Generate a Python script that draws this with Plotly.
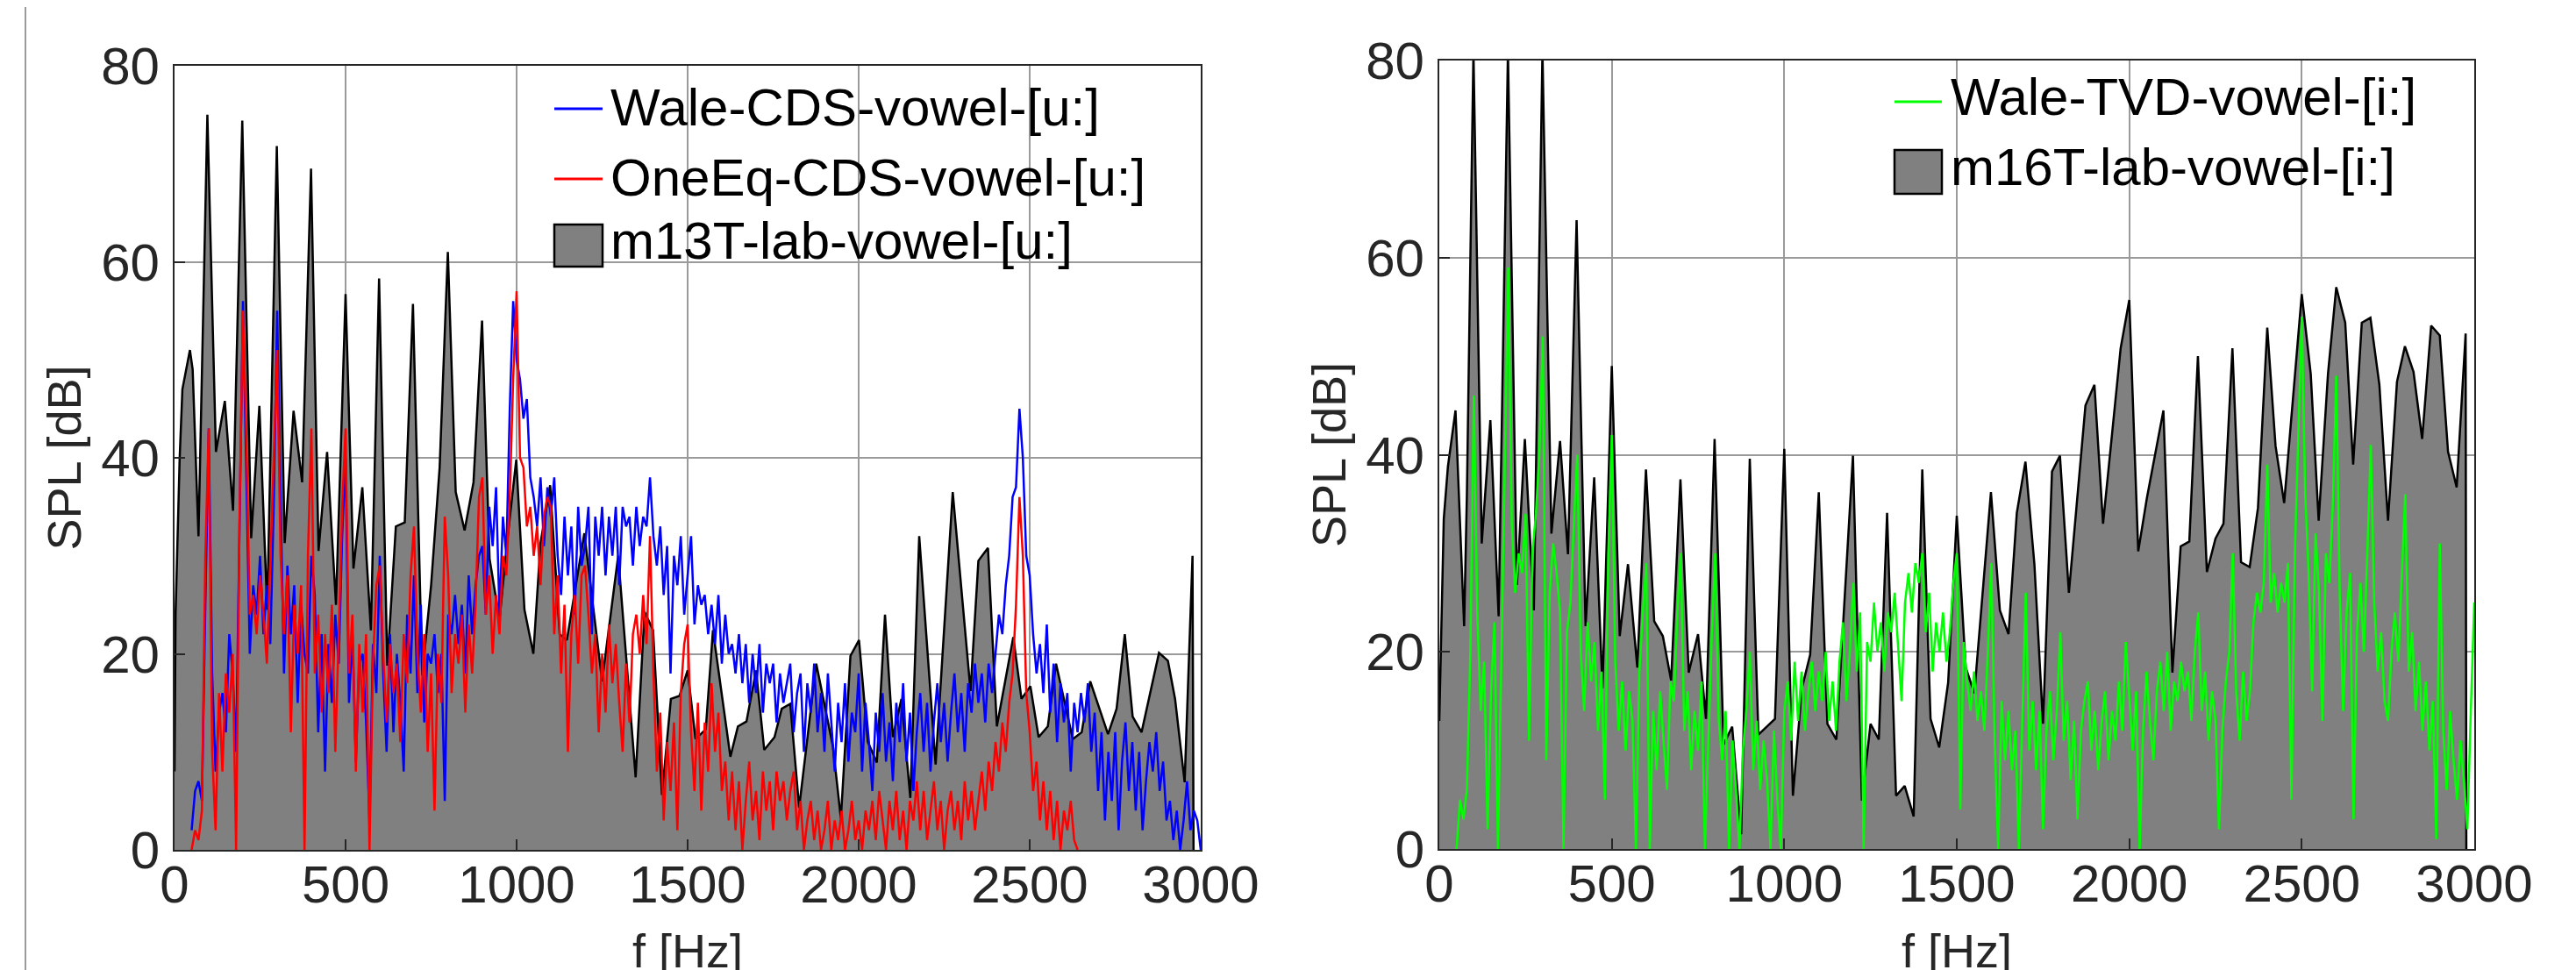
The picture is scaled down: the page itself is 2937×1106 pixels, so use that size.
import plotly.graph_objects as go

# ---------------- data ----------------
# left panel: m13T lab vowel [u:] envelope
m13t_f = [0, 3, 15, 23, 45, 53, 70, 75, 96, 121, 147, 171, 198, 224, 248, 271, 299, 322, 348, 373,
          399, 421, 446, 472, 500, 523, 549, 574, 598, 622, 647, 673, 697, 724, 750, 775, 799, 822, 848, 874,
          899, 921, 950, 972, 999, 1023, 1049, 1070, 1098, 1126, 1147, 1198, 1250, 1297, 1348, 1374, 1399, 1425, 1451, 1476,
          1500, 1523, 1553, 1574, 1625, 1647, 1672, 1700, 1724, 1754, 1775, 1800, 1826, 1876, 1925, 1948, 1976, 2001, 2027, 2053,
          2077, 2100, 2125, 2151, 2177, 2225, 2275, 2327, 2350, 2378, 2404, 2452, 2476, 2502, 2526, 2553, 2577, 2626, 2652, 2677,
          2729, 2754, 2778, 2801, 2827, 2878, 2904, 2925, 2953, 2976, 2979]
m13t_db = [8, 24, 40, 47, 51, 49, 32, 40, 75, 40.6, 45.8, 34.6, 74.4, 31.8, 45.3, 24.5, 71.8, 31.3, 44.8, 37.5,
           69.5, 30.5, 40.6, 25, 56.7, 28.7, 37, 22.4, 58.3, 18.8, 33, 33.4, 55.7, 17.8, 27, 39, 61, 36.5, 32.6, 37.5,
           54, 29.7, 23.5, 31.3, 39.8, 24.5, 20, 31.3, 37.2, 22, 21.4, 32.3, 17.2, 30, 7.4, 24.3, 22.4, 5.6, 15.4, 15.7,
           18.3, 11.3, 12.3, 22.4, 9.5, 12.6, 13.1, 18.3, 10.2, 11.5, 14.4, 14.9, 4.3, 19, 10.5, 3.2, 19.8, 21.4, 11, 8.9,
           24, 11.5, 15.4, 5.3, 32, 8.7, 36.5, 16.2, 29.5, 30.8, 12.6, 21.7, 15.4, 16.7, 11.5, 12.6, 19, 11.3, 12, 17.2,
           11.8, 14.4, 22, 13.6, 12, 20.1, 19.3, 15.4, 6.9, 30, 0]

# frequency grid of the simulated spectra (Hz)
sim_f = list(range(50, 3001, 10))

wale_cds_db = [
    2, 6, 7, 5, 25, 43, 18, 8, 14, 16,
    12, 22, 18, 10, 33, 56, 38, 20, 27, 24,
    30, 22, 27, 21, 35, 55, 36, 18, 29, 22,
    27, 15, 25, 20, 18, 30, 26, 12, 22, 8,
    21, 15, 24, 19, 32, 40, 15, 22, 9, 19,
    20, 13, 3, 21, 16, 30, 18, 10, 22, 12,
    20, 15, 8, 24, 18, 28, 16, 25, 13, 20,
    19, 22, 16, 20, 5, 24, 22, 26, 21, 25,
    18, 28, 22, 27, 30, 31, 24, 35, 31, 37,
    24, 34, 30, 45, 56, 50, 48, 44, 46, 38,
    36, 33, 38, 31, 37, 34, 38, 30, 26, 34,
    28, 33, 24, 35, 29, 31, 35, 22, 34, 30,
    35, 28, 34, 30, 35, 27, 35, 33, 34, 29,
    35, 31, 34, 33, 38, 32, 29, 33, 26, 31,
    18, 30, 27, 32, 24, 28, 32, 23, 27, 25,
    26, 22, 25, 21, 26, 19, 24, 20, 21, 18,
    22, 17, 21, 15, 20, 16, 21, 14, 19, 17,
    19, 13, 18, 15, 17, 19, 12, 16, 18, 10,
    17, 14, 19, 12, 16, 10, 18, 13, 8, 15,
    11, 17, 9, 14, 12, 18, 8, 15, 11, 6,
    14, 10, 16, 9, 13, 7, 15, 11, 17, 9,
    14, 6, 12, 16, 10, 15, 8, 13, 17, 11,
    15, 9, 14, 18, 12, 16, 10, 17, 14, 19,
    15, 18, 13, 19, 16, 20, 24, 22, 27, 30,
    36, 37, 45, 40, 30, 28, 22, 18, 21, 16,
    23, 14, 19, 11, 17, 13, 16, 8, 15, 12,
    16, 13, 17, 10, 14, 6, 12, 3, 10, 5,
    12, 2, 9, 13, 6, 11, 4, 10, 2, 7,
    11, 8, 12, 6, 9, 3, 5, 1, 4, 0,
    3, 7, 2, 4, 3, 0]

oneeq_cds_db = [
    0, 2, 1, 4, 30, 43, 10, 2, 16, 8,
    18, 14, 20, 0, 34, 55, 42, 24, 26, 22,
    28, 24, 19, 29, 40, 51, 30, 22, 28, 12,
    25, 20, 27, 0, 30, 43, 18, 24, 14, 22,
    16, 25, 10, 22, 35, 43, 18, 24, 8, 21,
    14, 22, 0, 19, 27, 29, 20, 13, 21, 16,
    19, 11, 22, 17, 28, 33, 20, 14, 22, 10,
    18, 4, 20, 15, 34, 28, 16, 22, 19, 24,
    14, 23, 18, 25, 36, 38, 24, 28, 20, 26,
    22, 30, 28, 36, 48, 57, 40, 39, 33, 35,
    30, 33, 27, 34, 36, 35, 22, 28, 18, 25,
    10, 22, 26, 19, 28, 29, 24, 18, 22, 12,
    20, 14, 23, 17, 21, 15, 10, 19, 13, 22,
    24, 20, 26, 21, 32, 18, 8, 14, 3, 11,
    6, 13, 2, 16, 21, 23, 12, 6, 15, 4,
    13, 8, 17, 10, 14, 6, 9, 3, 8, 2,
    7, 0, 5, 9, 3, 6, 1, 8, 4, 7,
    2, 8, 5, 7, 3, 6, 8, 2, 5, 0,
    3, 5, 1, 4, 0, 2, 5, 0, 3, 1,
    4, 0, 2, 5, 1, 3, 0, 4, 2, 5,
    1, 6, 3, 0, 5, 2, 6, 1, 4, 0,
    5, 3, 7, 2, 6, 1, 4, 7, 2, 5,
    0, 4, 6, 2, 5, 1, 7, 3, 6, 2,
    5, 8, 4, 9, 6, 11, 8, 13, 10, 15,
    18, 25, 36, 30, 16, 12, 6, 9, 3, 7,
    2, 6, 1, 5, 0, 4, 2, 5, 1, 0,
    None, None, None, None, None, None, None, None, None, None,
    None, None, None, None, None, None, None, None, None, None,
    None, None, None, None, None, None, None, None, None, None,
    None, None, None, None, None, None]

# right panel: m16T lab vowel [i:] envelope
m16t_f = [0, 5, 13, 25, 47, 72, 80, 99, 123, 148,
          172, 199, 225, 248, 274, 299, 325, 350, 373, 398,
          424, 449, 473, 500, 523, 547, 574, 599, 623, 648,
          672, 699, 723, 750, 773, 798, 824, 849, 875, 900,
          925, 973, 1000, 1025, 1051, 1075, 1100, 1125, 1151, 1199,
          1225, 1250, 1274, 1298, 1324, 1349, 1375, 1400, 1424, 1449,
          1475, 1500, 1526, 1551, 1599, 1625, 1650, 1674, 1699, 1725,
          1750, 1776, 1799, 1825, 1873, 1899, 1924, 1975, 2000, 2026,
          2051, 2099, 2125, 2149, 2174, 2199, 2225, 2250, 2273, 2299,
          2324, 2349, 2373, 2400, 2424, 2449, 2500, 2526, 2549, 2576,
          2600, 2626, 2649, 2674, 2699, 2725, 2750, 2776, 2799, 2824,
          2849, 2875, 2900, 2924, 2949, 2975, 2977]
m16t_db = [13, 20, 33.5, 38.8, 44.5, 22.6, 36, 81, 31, 43.5,
           23.6, 81, 26.8, 41.6, 24.2, 81, 32, 41.4, 29.9, 63.8,
           22.6, 37.7, 16.3, 49, 21.6, 28.9, 18.4, 38.5, 23.1, 21.6,
           17.1, 37.5, 17.9, 21.8, 13.2, 41.6, 10.6, 12.4, 1.5, 39.6,
           11.6, 13.2, 40.6, 5.4, 16.3, 19.7, 36.2, 12.7, 11.1, 39.9,
           4.9, 12.7, 11.1, 34.1, 5.4, 6.4, 3.3, 38.5, 13.2, 10.3,
           16.9, 33.8, 18.4, 15.8, 36.2, 24.2, 21.8, 34.1, 39.3, 28.9,
           12.7, 38.3, 39.9, 26, 45, 47.1, 33, 50.8, 55.7, 30.2,
           35.6, 44.5, 17.9, 30.7, 31.2, 50, 28.1, 31.5, 33, 50.8,
           29.1, 28.6, 34.6, 52.9, 40.9, 35.1, 56.3, 48.2, 33.3, 48.2,
           57, 53.4, 39, 53.4, 53.9, 47.1, 33.3, 47.4, 51, 48.4,
           41.6, 53.1, 52.1, 40.3, 36.7, 52.3, 0]

wale_tvd_db = [
    0, 5, 3, 6, 20, 46, 24, 14, 19, 2,
    16, 23, 0, 20, 38, 59, 33, 26, 30, 28,
    34, 11, 30, 34, 40, 52, 9, 26, 31, 28,
    24, 0, 22, 25, 33, 40, 20, 14, 23, 17,
    21, 12, 18, 5, 30, 42, 19, 12, 17, 10,
    16, 13, 0, 18, 24, 29, 0, 14, 8, 16,
    11, 6, 17, 15, 24, 30, 12, 16, 8, 14,
    10, 17, 0, 12, 22, 30, 13, 9, 14, 0,
    11, 6, 0, 10, 14, 20, 8, 13, 6, 11,
    7, 0, 12, 5, 0, 14, 17, 11, 19, 13,
    18, 12, 16, 19, 14, 18, 15, 20, 13, 17,
    12, 19, 23, 15, 20, 27, 18, 24, 0, 21,
    19, 25, 20, 23, 18, 24, 22, 26, 20, 15,
    25, 28, 24, 29, 27, 30, 22, 26, 18, 23,
    20, 24, 19, 22, 27, 30, 4, 21, 17, 14,
    18, 13, 16, 12, 20, 29, 11, 0, 15, 9,
    14, 8, 12, 0, 13, 26, 10, 15, 8, 14,
    2, 12, 16, 9, 14, 22, 11, 15, 7, 13,
    3, 12, 15, 17, 10, 14, 8, 13, 16, 9,
    14, 11, 17, 12, 21, 15, 10, 16, 0, 12,
    18, 13, 9, 16, 19, 14, 20, 12, 17, 15,
    19, 16, 18, 13, 20, 24, 14, 18, 11, 16,
    13, 2, 12, 17, 20, 30, 16, 11, 18, 13,
    16, 23, 26, 24, 27, 39, 25, 28, 24, 27,
    25, 29, 5, 30, 42, 54, 36, 28, 16, 32,
    26, 13, 30, 27, 35, 48, 26, 14, 24, 28,
    3, 22, 27, 20, 30, 41, 25, 18, 22, 15,
    13, 20, 24, 19, 28, 36, 18, 22, 14, 19,
    12, 17, 10, 15, 1, 31, 12, 6, 14, 9,
    5, 11, 7, 2, 14, 25]

x_ticks = [0, 500, 1000, 1500, 2000, 2500, 3000]
y_ticks = [0, 20, 40, 60, 80]

left_names = ["Wale-CDS-vowel-[u:]", "OneEq-CDS-vowel-[u:]", "m13T-lab-vowel-[u:]"]
right_names = ["Wale-TVD-vowel-[i:]", "m16T-lab-vowel-[i:]"]

# ---------------- styling ----------------
FONT = "Liberation Sans, Arial, Helvetica, sans-serif"
TXT = "#262626"
GRID = "#9a9a9a"
GRAY = "#808080"
W, H = 2937, 1106
TICK_SIZE = 60
TITLE_SIZE = 54
LEG_SIZE = 60

fig = go.Figure()

# left panel
fig.add_trace(go.Scatter(x=m13t_f, y=m13t_db, mode="lines", fill="tozeroy",
                         fillcolor=GRAY, line=dict(color="black", width=2.5),
                         name=left_names[2], showlegend=False, xaxis="x", yaxis="y"))
fig.add_trace(go.Scatter(x=sim_f, y=wale_cds_db, mode="lines",
                         line=dict(color="#0000ff", width=2.5),
                         name=left_names[0], showlegend=False, xaxis="x", yaxis="y"))
fig.add_trace(go.Scatter(x=sim_f, y=oneeq_cds_db, mode="lines",
                         line=dict(color="#ff0000", width=2.5),
                         name=left_names[1], showlegend=False, xaxis="x", yaxis="y"))

# right panel
fig.add_trace(go.Scatter(x=m16t_f, y=m16t_db, mode="lines", fill="tozeroy",
                         fillcolor=GRAY, line=dict(color="black", width=2.5),
                         name=right_names[1], showlegend=False, xaxis="x2", yaxis="y2"))
fig.add_trace(go.Scatter(x=sim_f, y=wale_tvd_db, mode="lines",
                         line=dict(color="#00ff00", width=2.5),
                         name=right_names[0], showlegend=False, xaxis="x2", yaxis="y2"))


def xax(domain, anchor):
    return dict(domain=domain, anchor=anchor, range=[0, 3000], tickvals=x_ticks,
                automargin=False,
                showgrid=True, gridcolor=GRID, gridwidth=1.5, zeroline=False,
                showline=True, mirror=True, linecolor=TXT, linewidth=2,
                ticks="inside", ticklen=12, tickwidth=2, tickcolor=TXT,
                ticklabelstandoff=-14,
                tickfont=dict(family=FONT, size=TICK_SIZE, color=TXT),
                title=dict(text="f [Hz]", font=dict(family=FONT, size=TITLE_SIZE, color=TXT), standoff=30))


def yax(domain, anchor):
    return dict(domain=domain, anchor=anchor, range=[0, 80], tickvals=y_ticks,
                automargin=False,
                showgrid=True, gridcolor=GRID, gridwidth=1.5, zeroline=False,
                showline=True, mirror=True, linecolor=TXT, linewidth=2,
                ticks="inside", ticklen=12, tickwidth=2, tickcolor=TXT,
                ticklabelstandoff=3,
                tickfont=dict(family=FONT, size=TICK_SIZE, color=TXT),
                title=dict(text="SPL [dB]", font=dict(family=FONT, size=TITLE_SIZE, color=TXT), standoff=5))


def px(x):
    return x / W


def py(y):
    return 1 - y / H


# hand-built legends (MATLAB style: short line / patch box, no frame)
shapes = [dict(type="line", xref="paper", yref="paper", x0=px(21), x1=px(21),
               y0=0, y1=1, line=dict(color="#9a9a9a", width=2))]
annotations = []

# left legend
shapes.append(dict(type="line", xref="paper", yref="paper", x0=px(624), x1=px(679),
                   y0=py(116), y1=py(116), line=dict(color="#0000ff", width=3)))
shapes.append(dict(type="line", xref="paper", yref="paper", x0=px(624), x1=px(679),
                   y0=py(196), y1=py(196), line=dict(color="#ff0000", width=3)))
shapes.append(dict(type="rect", xref="paper", yref="paper", x0=px(624), x1=px(679),
                   y0=py(296), y1=py(248), fillcolor=GRAY, line=dict(color="black", width=2.5)))
for name, yc in zip(left_names, [114, 194, 267]):
    annotations.append(dict(text=name, xref="paper", yref="paper", x=px(686), y=py(yc),
                            xanchor="left", yanchor="middle", showarrow=False,
                            font=dict(family=FONT, size=LEG_SIZE, color="black")))

# right legend
shapes.append(dict(type="line", xref="paper", yref="paper", x0=px(2152), x1=px(2206),
                   y0=py(108), y1=py(108), line=dict(color="#00ff00", width=3)))
shapes.append(dict(type="rect", xref="paper", yref="paper", x0=px(2152), x1=px(2206),
                   y0=py(213), y1=py(163), fillcolor=GRAY, line=dict(color="black", width=2.5)))
for name, yc in zip(right_names, [102, 182]):
    annotations.append(dict(text=name, xref="paper", yref="paper", x=px(2214), y=py(yc),
                            xanchor="left", yanchor="middle", showarrow=False,
                            font=dict(family=FONT, size=LEG_SIZE, color="black")))

fig.update_layout(
    width=W, height=H,
    margin=dict(l=0, r=0, t=0, b=0),
    paper_bgcolor="white", plot_bgcolor="white",
    font=dict(family=FONT, color="black"),
    xaxis=xax([191 / W, 1361 / W], "y"),
    yaxis=yax([(H - 961) / H, (H - 67) / H], "x"),
    xaxis2=xax([1633 / W, 2813 / W], "y2"),
    yaxis2=yax([(H - 960) / H, (H - 61) / H], "x2"),
    shapes=shapes,
    annotations=annotations,
    showlegend=False,
)

fig.write_html("out.html")
